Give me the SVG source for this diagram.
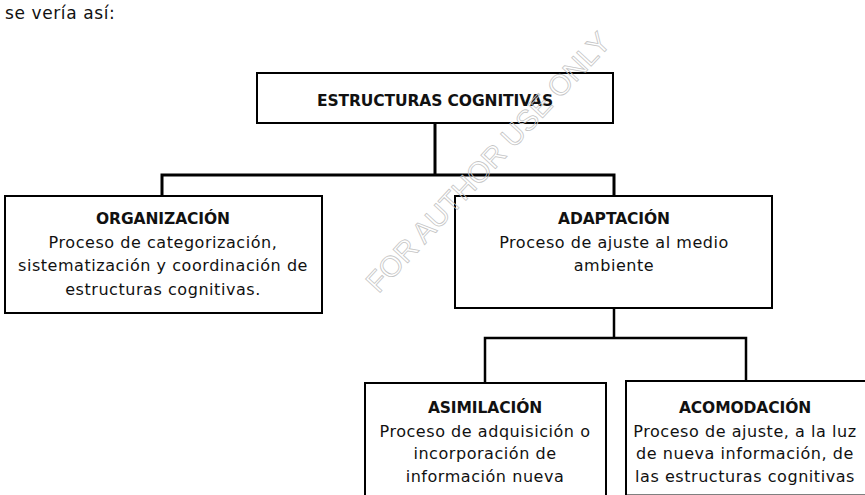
<svg xmlns="http://www.w3.org/2000/svg" width="865" height="495" viewBox="0 0 865 495">
<style>
.box{fill:none;stroke:#000;stroke-width:2}
.t{font-family:"DejaVu Sans",Verdana,sans-serif;font-size:16px;fill:#111;text-anchor:middle;letter-spacing:0.55px}
.b{font-weight:bold;font-size:15.5px;letter-spacing:-0.1px}
.wm{font-family:"Liberation Sans",Arial,sans-serif;font-size:29px;fill:none;stroke:#c4c4c4;stroke-width:0.8;text-anchor:middle}
</style>
<rect width="865" height="495" fill="#fff"/>
<text x="5" y="19" style="font-family:'DejaVu Sans',Verdana,sans-serif;font-size:17px;fill:#111;letter-spacing:0.6px">se vería así:</text>
<g id="connectors" fill="none" stroke="#000">
<path d="M435,123 V175 M162,196 V175 H614 V196" stroke-width="3"/>
<path d="M614,308 V338 M485,383 V338 H746 V381" stroke-width="2.5"/>
</g>
<g id="estructuras">
<rect class="box" x="257" y="73" width="356" height="50"/>
<text class="t b" x="435" y="106">ESTRUCTURAS COGNITIVAS</text>
</g>
<g id="organizacion">
<rect class="box" x="5" y="196" width="317" height="117"/>
<text class="t b" x="163" y="223.5">ORGANIZACIÓN</text>
<text class="t" x="163" y="247.5">Proceso de categorización,</text>
<text class="t" x="163" y="271">sistematización y coordinación de</text>
<text class="t" x="163" y="295">estructuras cognitivas.</text>
</g>
<g id="adaptacion">
<rect class="box" x="455" y="196" width="317" height="112"/>
<text class="t b" x="614" y="223.5">ADAPTACIÓN</text>
<text class="t" x="614" y="247.5">Proceso de ajuste al medio</text>
<text class="t" x="614" y="270.5">ambiente</text>
</g>
<g id="asimilacion">
<rect class="box" x="365" y="383" width="241" height="120"/>
<text class="t b" x="485" y="413">ASIMILACIÓN</text>
<text class="t" x="485" y="436.5">Proceso de adquisición o</text>
<text class="t" x="485" y="459">incorporación de</text>
<text class="t" x="485" y="481.5">información nueva</text>
</g>
<g id="acomodacion">
<rect class="box" x="626" y="381" width="242" height="114.5"/>
<text class="t b" x="745" y="413">ACOMODACIÓN</text>
<text class="t" x="745" y="436.5">Proceso de ajuste, a la luz</text>
<text class="t" x="745" y="459">de nueva información, de</text>
<text class="t" x="745" y="481.5">las estructuras cognitivas</text>
</g>
<text class="wm" x="488" y="172" transform="rotate(-47 488 162)">FOR AUTHOR USE ONLY</text>
</svg>
